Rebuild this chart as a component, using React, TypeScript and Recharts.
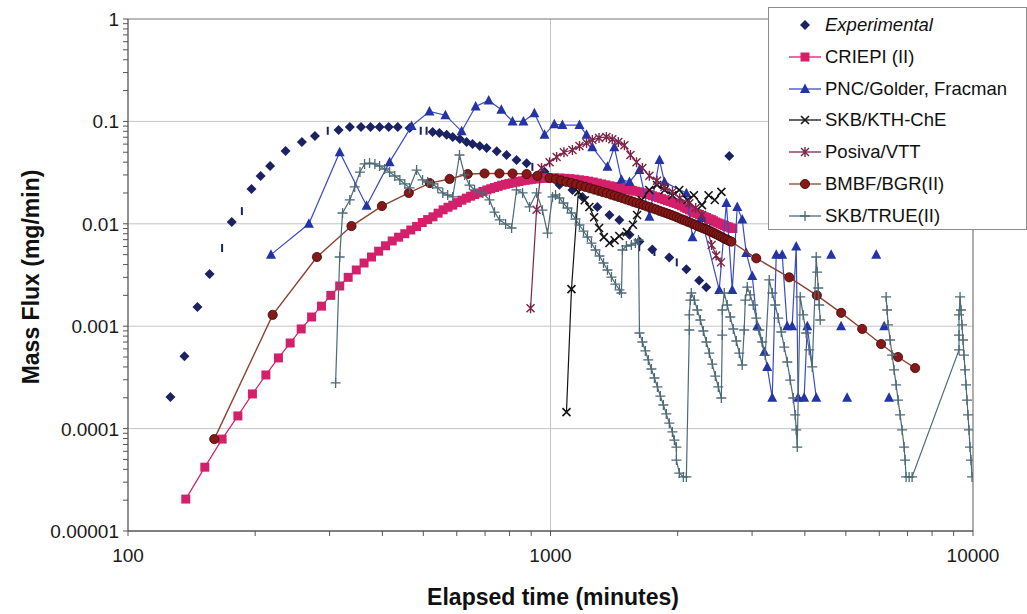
import { ScatterChart, Scatter, XAxis, YAxis, ReferenceLine } from "recharts";

// ---- data (elapsed time in minutes, mass flux in mg/min) ----

const EXP_T = [126, 136, 146, 156, 176, 196, 206, 217, 236, 258, 277, 315, 335, 356, 375, 394, 414, 435, 464, 526, 546, 568, 587, 610, 633, 654, 680, 706, 746, 787, 831, 878, 968, 1050, 1127, 1190, 1291, 1379, 1455, 1538, 1623, 1742, 1910, 2097, 2249, 2337, 2649];
const EXP_F = [0.000204, 0.00051, 0.00154, 0.00323, 0.0104, 0.0219, 0.0293, 0.0367, 0.0514, 0.0629, 0.072, 0.0824, 0.088, 0.088, 0.088, 0.088, 0.088, 0.088, 0.086, 0.0787, 0.0772, 0.0739, 0.0705, 0.0674, 0.063, 0.0602, 0.0575, 0.0549, 0.051, 0.047, 0.042, 0.039, 0.0322, 0.024, 0.0214, 0.0183, 0.0146, 0.0122, 0.0109, 0.0078, 0.0067, 0.0056, 0.0047, 0.0036, 0.0028, 0.0024, 0.046];

// experimental points that print as short dashes in the scan
const EXP_DASH_T = [167, 186, 297, 493, 509, 906, 1622, 1762, 1990];
const EXP_DASH_F = [0.0058, 0.0133, 0.081, 0.081, 0.081, 0.036, 0.0059, 0.0053, 0.0042];

const CRIEPI_T = [
  137, 152, 167, 182, 197, 212, 227, 242, 257, 272, 287, 302, 317, 332, 347, 362, 377, 392, 407, 422, 437, 452, 467, 482,
  497, 512, 527, 542, 557, 572, 587, 602, 617, 632, 647, 662, 677, 692, 707, 722, 737, 752, 767, 782, 797, 812, 827, 842, 857, 872, 887, 902, 917, 932, 947, 962, 977, 992,
  1022, 1052, 1082, 1112, 1142, 1172, 1202, 1232, 1262, 1292, 1322, 1352, 1382, 1412, 1442, 1472, 1502, 1532, 1562, 1592, 1622, 1652, 1682, 1712, 1742, 1772, 1802, 1832, 1862, 1892,
  1922, 1952, 1982, 2012, 2042, 2072, 2102, 2132, 2162, 2192, 2222, 2252, 2282, 2312, 2342, 2372, 2402, 2432, 2462, 2492, 2522, 2552, 2582, 2612, 2642, 2672, 2702,
];
const CRIEPI_F = [
  2.05e-5, 4.2e-5, 7.9e-5, 1.33e-4, 2.18e-4, 3.34e-4, 4.9e-4, 6.85e-4, 9.4e-4, 1.23e-3, 1.57e-3, 2.0e-3, 2.47e-3, 3.0e-3, 3.54e-3, 4.14e-3, 4.74e-3, 5.4e-3, 6.1e-3, 6.8e-3, 7.4e-3, 8.0e-3, 8.7e-3, 9.4e-3,
  0.0103, 0.011, 0.0117, 0.0127, 0.0137, 0.0145, 0.0152, 0.0161, 0.017, 0.0178, 0.0186, 0.0193, 0.02, 0.0207, 0.0214, 0.022, 0.0226, 0.0232, 0.0238, 0.0243, 0.0247, 0.0251, 0.0255, 0.0259, 0.0263, 0.0266, 0.0269, 0.0272, 0.0274, 0.0276, 0.0278, 0.0279, 0.028, 0.0281,
  0.0281, 0.028, 0.0278, 0.0276, 0.0273, 0.0269, 0.0265, 0.0261, 0.0256, 0.025, 0.0245, 0.024, 0.0235, 0.0231, 0.0227, 0.0223, 0.0219, 0.0215, 0.0212, 0.0208, 0.0205, 0.0201, 0.0197, 0.0193, 0.0188, 0.0184, 0.018, 0.0176, 0.0172, 0.0168,
  0.0165, 0.0161, 0.0158, 0.0154, 0.015, 0.0145, 0.0141, 0.0137, 0.0133, 0.0129, 0.0126, 0.0123, 0.012, 0.0117, 0.0115, 0.0112, 0.011, 0.0107, 0.0104, 0.0102, 0.01, 0.0098, 0.0096, 0.0094, 0.0093, 0.0091, 0.009,
];

const PNC_T = [218, 268, 317, 367, 416, 469, 517, 564, 616, 665, 714, 765, 813, 863, 916, 968, 1021, 1067, 1171, 1217, 1256, 1364, 1416, 1472, 1538, 1623, 1714, 1811, 1861, 2097, 2168, 2276, 2508, 2608, 2693, 2767, 2843, 2906, 3003, 3086, 3206, 3258, 3348, 3422, 3535, 3632, 3732, 3816, 3855, 3984, 4053, 4256];
const PNC_F = [0.005, 0.01, 0.05, 0.015, 0.04, 0.09, 0.125, 0.115, 0.08, 0.14, 0.16, 0.13, 0.1, 0.1, 0.12, 0.074, 0.094, 0.092, 0.092, 0.074, 0.056, 0.036, 0.056, 0.027, 0.0256, 0.0335, 0.0117, 0.042, 0.0256, 0.0199, 0.0074, 0.0114, 0.00226, 0.016, 0.00226, 0.0146, 0.011, 0.0052, 0.0031, 0.001, 0.00056, 0.0004, 0.0002, 0.005, 0.005, 0.001, 0.001, 0.006, 0.0002, 0.0002, 0.001, 0.0002];
// late PNC points that are not joined by the line
const PNC_LATE_T = [4616, 4872, 5035, 5902, 6163, 6328];
const PNC_LATE_F = [0.005, 0.001, 0.0002, 0.005, 0.001, 0.0002];

const KTH_T = [1091, 1121, 1164, 1205, 1236, 1268, 1303, 1337, 1379, 1418, 1455, 1516, 1567, 1603, 1644, 1713, 1787, 1861, 1944, 2017, 2108, 2184, 2283, 2367, 2448, 2538];
const KTH_F = [0.000145, 0.0023, 0.0205, 0.017, 0.0146, 0.0116, 0.0091, 0.0074, 0.0065, 0.0069, 0.0076, 0.0083, 0.0098, 0.0122, 0.0171, 0.0214, 0.0239, 0.0214, 0.019, 0.0214, 0.0171, 0.019, 0.0152, 0.019, 0.0171, 0.0205];

const POSIVA_T = [897, 927, 952, 995, 1034, 1076, 1127, 1171, 1217, 1256, 1303, 1356, 1400, 1447, 1496, 1546, 1598, 1650, 1714, 1787, 1861, 1944, 2022, 2131, 2206, 2283, 2346, 2406, 2467, 2531];
const POSIVA_F = [0.0015, 0.0137, 0.035, 0.04, 0.045, 0.05, 0.0525, 0.0575, 0.0616, 0.066, 0.069, 0.0705, 0.067, 0.0628, 0.0585, 0.047, 0.04, 0.035, 0.0294, 0.0263, 0.0229, 0.0205, 0.0178, 0.0159, 0.0143, 0.0122, 0.0091, 0.0062, 0.0049, 0.0042];

const BMBF_T = [
  160, 220, 280, 338, 399, 462, 518, 577, 637, 698, 757, 813, 878, 931, 995,
  1030, 1060, 1090, 1120, 1150, 1180, 1210, 1240, 1270, 1300, 1330, 1360, 1390, 1420, 1450, 1480, 1510, 1540, 1570, 1600, 1630, 1660, 1690, 1720, 1750, 1780, 1810, 1840, 1870, 1900,
  1930, 1960, 1990, 2020, 2050, 2080, 2110, 2140, 2170, 2200, 2230, 2260, 2290, 2320, 2350, 2380, 2410, 2440, 2470, 2500, 2530, 2560, 2590, 2620, 2650, 2680,
  3069, 3673, 4270, 4875, 5466, 6061, 6647, 7295,
];
const BMBF_F = [
  7.9e-5, 0.00129, 0.00474, 0.0095, 0.0149, 0.02, 0.025, 0.0274, 0.0306, 0.031, 0.031, 0.031, 0.0306, 0.0294, 0.028,
  0.0273, 0.0265, 0.0257, 0.025, 0.0243, 0.0236, 0.0229, 0.0222, 0.0216, 0.021, 0.0204, 0.0199, 0.0193, 0.0188, 0.0183, 0.0178, 0.0173, 0.0169, 0.0164, 0.016, 0.0156, 0.0152, 0.0148, 0.0145, 0.0141, 0.0138, 0.0134, 0.0131, 0.0128, 0.0125,
  0.0122, 0.0119, 0.0116, 0.0113, 0.011, 0.0108, 0.0105, 0.0103, 0.01, 0.0098, 0.0095, 0.0093, 0.0091, 0.0089, 0.0087, 0.0085, 0.0083, 0.0081, 0.0079, 0.0077, 0.0075, 0.0073, 0.0071, 0.007, 0.0068, 0.0067,
  0.0046, 0.003, 0.002, 0.00135, 0.00094, 0.00067, 0.0005, 0.00039,
];

const TRUE_T = [
  310, 317, 322, 335, 344, 354, 363, 373, 384, 394, 405, 416, 428, 440, 452, 464, 482, 498, 512, 526, 541, 556, 571, 587, 609, 626, 643, 661, 691, 717, 737, 758, 783, 809, 831, 859, 892, 927, 957, 984, 1011,
  1028, 1050, 1073, 1097, 1121, 1146, 1171, 1197, 1223, 1250, 1278, 1306, 1335, 1364, 1394, 1425, 1456, 1472,
  1480, 1512, 1554, 1588, 1615,
  1624, 1650, 1677, 1704, 1733, 1762, 1791, 1820, 1850, 1880, 1911, 1943, 1964, 1986, 1986, 2018, 2063, 2097,
  2131, 2131, 2143, 2154, 2190, 2226, 2263, 2300, 2338, 2376, 2415, 2455, 2496, 2537,
  2550, 2550, 2578, 2620, 2664, 2708, 2753, 2798, 2843,
  2874, 2891, 2922, 2970, 3019, 3069, 3119, 3170, 3223,
  3294, 3349, 3404, 3459, 3517, 3575, 3634, 3693, 3754, 3795, 3816, 3837,
  3900, 3963, 4028, 4096, 4164,
  4255, 4278, 4302, 4325, 4349,
];
const TRUE_F = [
  2.79e-4, 4.74e-3, 0.01275, 0.0171, 0.0229, 0.032, 0.0384, 0.0392, 0.0384, 0.0367, 0.0343, 0.032, 0.0293, 0.0268, 0.0245, 0.0224, 0.0335, 0.0268, 0.0256, 0.0245, 0.0224, 0.02, 0.0191, 0.0183, 0.047, 0.03, 0.0239, 0.0214, 0.02, 0.0171, 0.013, 0.0109, 0.00996, 0.0091, 0.0214, 0.02, 0.0146, 0.02, 0.0136, 0.0081, 0.0183,
  0.0191, 0.01786, 0.01596, 0.01427, 0.01275, 0.01114, 0.00973, 0.0085, 0.00743, 0.00649, 0.00555, 0.00485, 0.00414, 0.00354, 0.00302, 0.00258, 0.00226, 0.00211,
  0.00555, 0.00607, 0.00621, 0.00649, 0.00695,
  0.000858, 0.000701, 0.000573, 0.000468, 0.000382, 0.000312, 0.000255, 0.000208, 0.00017, 0.000139, 0.000113, 9.27e-5, 7.7e-5, 6.6e-5, 4.93e-5, 3.68e-5, 3.37e-5, 3.37e-5,
  0.000918, 0.00129, 0.0018, 0.00211, 0.0018, 0.00144, 0.00115, 0.000898, 0.000701, 0.000547, 0.000427, 0.000326, 0.000255, 0.000199,
  0.00082, 0.00144, 0.00211, 0.00161, 0.00123, 0.000939, 0.000717, 0.000547, 0.000418,
  0.000918, 0.0018, 0.00241, 0.00202, 0.00161, 0.0012, 0.000918, 0.000701, 0.000523,
  0.00283, 0.00211, 0.00161, 0.0012, 0.000878, 0.000626, 0.000447, 0.000298, 0.000199, 0.000136, 9.7e-5, 6.6e-5,
  0.00193, 0.00129, 0.000858, 0.000586, 0.0004,
  0.00474, 0.00338, 0.00236, 0.00161, 0.00115,
];
const TRUE2_T = [6228, 6262, 6296, 6365, 6435, 6505, 6577, 6649, 6722, 6796, 6870, 6907, 6945, 7060, 7176, 9266, 9266, 9266, 9318, 9367, 9418, 9469, 9521, 9574, 9627, 9678, 9731, 9784, 9838, 9892, 9945];
const TRUE2_F = [0.00193, 0.00144, 0.00103, 0.000733, 0.000523, 0.000374, 0.000267, 0.00019, 0.000136, 9.7e-5, 6.6e-5, 4.93e-5, 3.37e-5, 3.37e-5, 3.37e-5, 0.000586, 0.00082, 0.00129, 0.00193, 0.00144, 0.00103, 0.000733, 0.000523, 0.000374, 0.000267, 0.00019, 0.000136, 9.7e-5, 6.6e-5, 4.93e-5, 3.37e-5];

const X_TICKS = [100, 200, 300, 400, 500, 600, 700, 800, 900, 1000, 2000, 3000, 4000, 5000, 6000, 7000, 8000, 9000, 10000];
const X_MAJOR = [100, 1000, 10000];
const X_LABELS = ["100", "1000", "10000"];
const Y_TICKS = [
  0.00001, 0.00002, 0.00003, 0.00004, 0.00005, 0.00006, 0.00007, 0.00008, 0.00009,
  0.0001, 0.0002, 0.0003, 0.0004, 0.0005, 0.0006, 0.0007, 0.0008, 0.0009,
  0.001, 0.002, 0.003, 0.004, 0.005, 0.006, 0.007, 0.008, 0.009,
  0.01, 0.02, 0.03, 0.04, 0.05, 0.06, 0.07, 0.08, 0.09,
  0.1, 0.2, 0.3, 0.4, 0.5, 0.6, 0.7, 0.8, 0.9, 1,
];
const Y_MAJOR = [0.00001, 0.0001, 0.001, 0.01, 0.1, 1];
const Y_LABELS = ["0.00001", "0.0001", "0.001", "0.01", "0.1", "1"];

const C_EXP = "#1b2262";
const C_CRIEPI = "#d4206b";
const C_PNC = "#2434a6";
const C_PNC_LINE = "#3a4cc4";
const C_KTH = "#141414";
const C_POSIVA = "#7c2448";
const C_BMBF = "#861818";
const C_BMBF_LINE = "#8e4331";
const C_TRUE = "#4d6a77";

const FONT = "'Liberation Sans', Arial, Helvetica, sans-serif";

const pts = (t: number[], f: number[]) => t.map((x, i) => ({ x, y: f[i] }));

type MarkerKind = "diamond" | "square" | "triangle" | "cross" | "star" | "circle" | "plus" | "dash";

function marker(kind: MarkerKind, cx: number, cy: number, c: string) {
  switch (kind) {
    case "diamond":
      return <path d={`M${cx},${cy - 5}L${cx + 5},${cy}L${cx},${cy + 5}L${cx - 5},${cy}Z`} fill={c} />;
    case "square":
      return <rect x={cx - 4.5} y={cy - 4.5} width={9} height={9} fill={c} />;
    case "triangle":
      return <path d={`M${cx},${cy - 5.5}L${cx + 5},${cy + 4}L${cx - 5},${cy + 4}Z`} fill={c} />;
    case "cross":
      return <path d={`M${cx - 4},${cy - 4}L${cx + 4},${cy + 4}M${cx + 4},${cy - 4}L${cx - 4},${cy + 4}`} stroke={c} strokeWidth={1.6} fill="none" />;
    case "star":
      return <path d={`M${cx - 4},${cy - 4}L${cx + 4},${cy + 4}M${cx + 4},${cy - 4}L${cx - 4},${cy + 4}M${cx},${cy - 5}L${cx},${cy + 5}`} stroke={c} strokeWidth={1.4} fill="none" />;
    case "circle":
      return <circle cx={cx} cy={cy} r={4.6} fill={c} stroke="#3c0808" strokeWidth={0.8} />;
    case "plus":
      return <path d={`M${cx - 5},${cy}L${cx + 5},${cy}M${cx},${cy - 5}L${cx},${cy + 5}`} stroke={c} strokeWidth={1.3} fill="none" />;
    case "dash":
      return <path d={`M${cx},${cy - 4}L${cx},${cy + 4}`} stroke={c} strokeWidth={2} fill="none" />;
  }
}

const shapeOf = (kind: MarkerKind, c: string) => (p: any) => marker(kind, p.cx, p.cy, c);

const LEGEND: { name: string; kind: MarkerKind; color: string; line?: string; italic?: boolean }[] = [
  { name: "Experimental", kind: "diamond", color: C_EXP, italic: true },
  { name: "CRIEPI (II)", kind: "square", color: C_CRIEPI, line: C_CRIEPI },
  { name: "PNC/Golder, Fracman", kind: "triangle", color: C_PNC, line: C_PNC_LINE },
  { name: "SKB/KTH-ChE", kind: "cross", color: C_KTH, line: C_KTH },
  { name: "Posiva/VTT", kind: "star", color: C_POSIVA, line: C_POSIVA },
  { name: "BMBF/BGR(II)", kind: "circle", color: C_BMBF, line: C_BMBF_LINE },
  { name: "SKB/TRUE(II)", kind: "plus", color: C_TRUE, line: C_TRUE },
];

function XTick(props: any) {
  const { x, y, payload } = props;
  const i = X_MAJOR.findIndex((m) => Math.abs(payload.value / m - 1) < 1e-6);
  if (i < 0) return <g />;
  return (
    <text x={x} y={y} dy={24} textAnchor="middle" fontSize={19} fill="#1a1a1a" fontFamily={FONT}>
      {X_LABELS[i]}
    </text>
  );
}

function YTick(props: any) {
  const { x, y, payload } = props;
  const i = Y_MAJOR.findIndex((m) => Math.abs(payload.value / m - 1) < 1e-6);
  if (i < 0) return <g />;
  return (
    <text x={x - 2} y={y} dy={7} textAnchor="end" fontSize={19} fill="#1a1a1a" fontFamily={FONT}>
      {Y_LABELS[i]}
    </text>
  );
}

function Legend() {
  return (
    <div
      style={{
        position: "absolute",
        left: 768,
        top: 7,
        width: 259,
        height: 223,
        boxSizing: "border-box",
        border: "1px solid #8c8c8c",
        background: "#fff",
        fontFamily: FONT,
      }}
    >
      {LEGEND.map((e, i) => (
        <div
          key={e.name}
          style={{ position: "absolute", left: 0, top: 5 + i * 31.8, height: 24, width: 257 }}
        >
          <svg width={40} height={24} style={{ position: "absolute", left: 18, top: 0 }}>
            {e.line && <line x1={2} y1={12} x2={34} y2={12} stroke={e.line} strokeWidth={1.3} />}
            {marker(e.kind, 18, 12, e.color)}
          </svg>
          <span
            style={{
              position: "absolute",
              left: 56,
              top: 1,
              fontSize: 18.5,
              lineHeight: "22px",
              color: "#111",
              fontStyle: e.italic ? "italic" : "normal",
              whiteSpace: "nowrap",
            }}
          >
            {e.name}
          </span>
        </div>
      ))}
    </div>
  );
}

export default function App() {
  return (
    <div style={{ position: "relative", width: 1027, height: 614, background: "#fff", fontFamily: FONT }}>
      <style>{"body{margin:0}"}</style>
      <ScatterChart width={1027} height={614} margin={{ top: 19, right: 54, bottom: 0, left: 0 }}>
        <XAxis
          type="number"
          dataKey="x"
          scale="log"
          domain={[100, 10000]}
          allowDataOverflow
          ticks={X_TICKS}
          interval={0}
          tick={<XTick />}
          tickSize={5}
          tickLine={{ stroke: "#555" }}
          axisLine={{ stroke: "#555", strokeWidth: 1.3 }}
          height={83}
          label={() => (
            <text x={553} y={605} textAnchor="middle" fontSize={23} fontWeight="bold" fill="#111" fontFamily={FONT}>
              Elapsed time (minutes)
            </text>
          )}
        />
        <YAxis
          type="number"
          dataKey="y"
          scale="log"
          domain={[0.00001, 1]}
          allowDataOverflow
          ticks={Y_TICKS}
          interval={0}
          tick={<YTick />}
          tickSize={5}
          tickLine={{ stroke: "#555" }}
          axisLine={{ stroke: "#555", strokeWidth: 1.3 }}
          width={128}
          label={() => (
            <text
              x={39}
              y={277}
              transform="rotate(-90 39 277)"
              textAnchor="middle"
              fontSize={23}
              fontWeight="bold"
              fill="#111"
              fontFamily={FONT}
            >
              Mass Flux (mg/min)
            </text>
          )}
        />

        {[0.1, 0.01, 0.001, 0.0001].map((v) => (
          <ReferenceLine key={v} y={v} stroke="#c4c4c4" strokeWidth={1} />
        ))}
        <ReferenceLine x={1000} stroke="#c4c4c4" strokeWidth={1} />
        <ReferenceLine y={1} stroke="#777" strokeWidth={1.2} />
        <ReferenceLine x={10000} stroke="#777" strokeWidth={1.2} />

        <Scatter name="Experimental" data={pts(EXP_T, EXP_F)} shape={shapeOf("diamond", C_EXP)} isAnimationActive={false} />
        <Scatter name="exp-dash" data={pts(EXP_DASH_T, EXP_DASH_F)} shape={shapeOf("dash", C_EXP)} isAnimationActive={false} />
        <Scatter
          name="CRIEPI (II)"
          data={pts(CRIEPI_T, CRIEPI_F)}
          line={{ stroke: C_CRIEPI, strokeWidth: 1.2 }}
          shape={shapeOf("square", C_CRIEPI)}
          isAnimationActive={false}
        />
        <Scatter
          name="PNC/Golder, Fracman"
          data={pts(PNC_T, PNC_F)}
          line={{ stroke: C_PNC_LINE, strokeWidth: 1.2 }}
          shape={shapeOf("triangle", C_PNC)}
          isAnimationActive={false}
        />
        <Scatter name="pnc-late" data={pts(PNC_LATE_T, PNC_LATE_F)} shape={shapeOf("triangle", C_PNC)} isAnimationActive={false} />
        <Scatter
          name="SKB/KTH-ChE"
          data={pts(KTH_T, KTH_F)}
          line={{ stroke: C_KTH, strokeWidth: 1.2 }}
          shape={shapeOf("cross", C_KTH)}
          isAnimationActive={false}
        />
        <Scatter
          name="Posiva/VTT"
          data={pts(POSIVA_T, POSIVA_F)}
          line={{ stroke: C_POSIVA, strokeWidth: 1.2 }}
          shape={shapeOf("star", C_POSIVA)}
          isAnimationActive={false}
        />
        <Scatter
          name="BMBF/BGR(II)"
          data={pts(BMBF_T, BMBF_F)}
          line={{ stroke: C_BMBF_LINE, strokeWidth: 1.4 }}
          shape={shapeOf("circle", C_BMBF)}
          isAnimationActive={false}
        />
        <Scatter
          name="SKB/TRUE(II)"
          data={pts(TRUE_T, TRUE_F)}
          line={{ stroke: C_TRUE, strokeWidth: 1.2 }}
          shape={shapeOf("plus", C_TRUE)}
          isAnimationActive={false}
        />
        <Scatter
          name="true-late"
          data={pts(TRUE2_T, TRUE2_F)}
          line={{ stroke: C_TRUE, strokeWidth: 1.2 }}
          shape={shapeOf("plus", C_TRUE)}
          isAnimationActive={false}
        />
      </ScatterChart>
      <Legend />
    </div>
  );
}
